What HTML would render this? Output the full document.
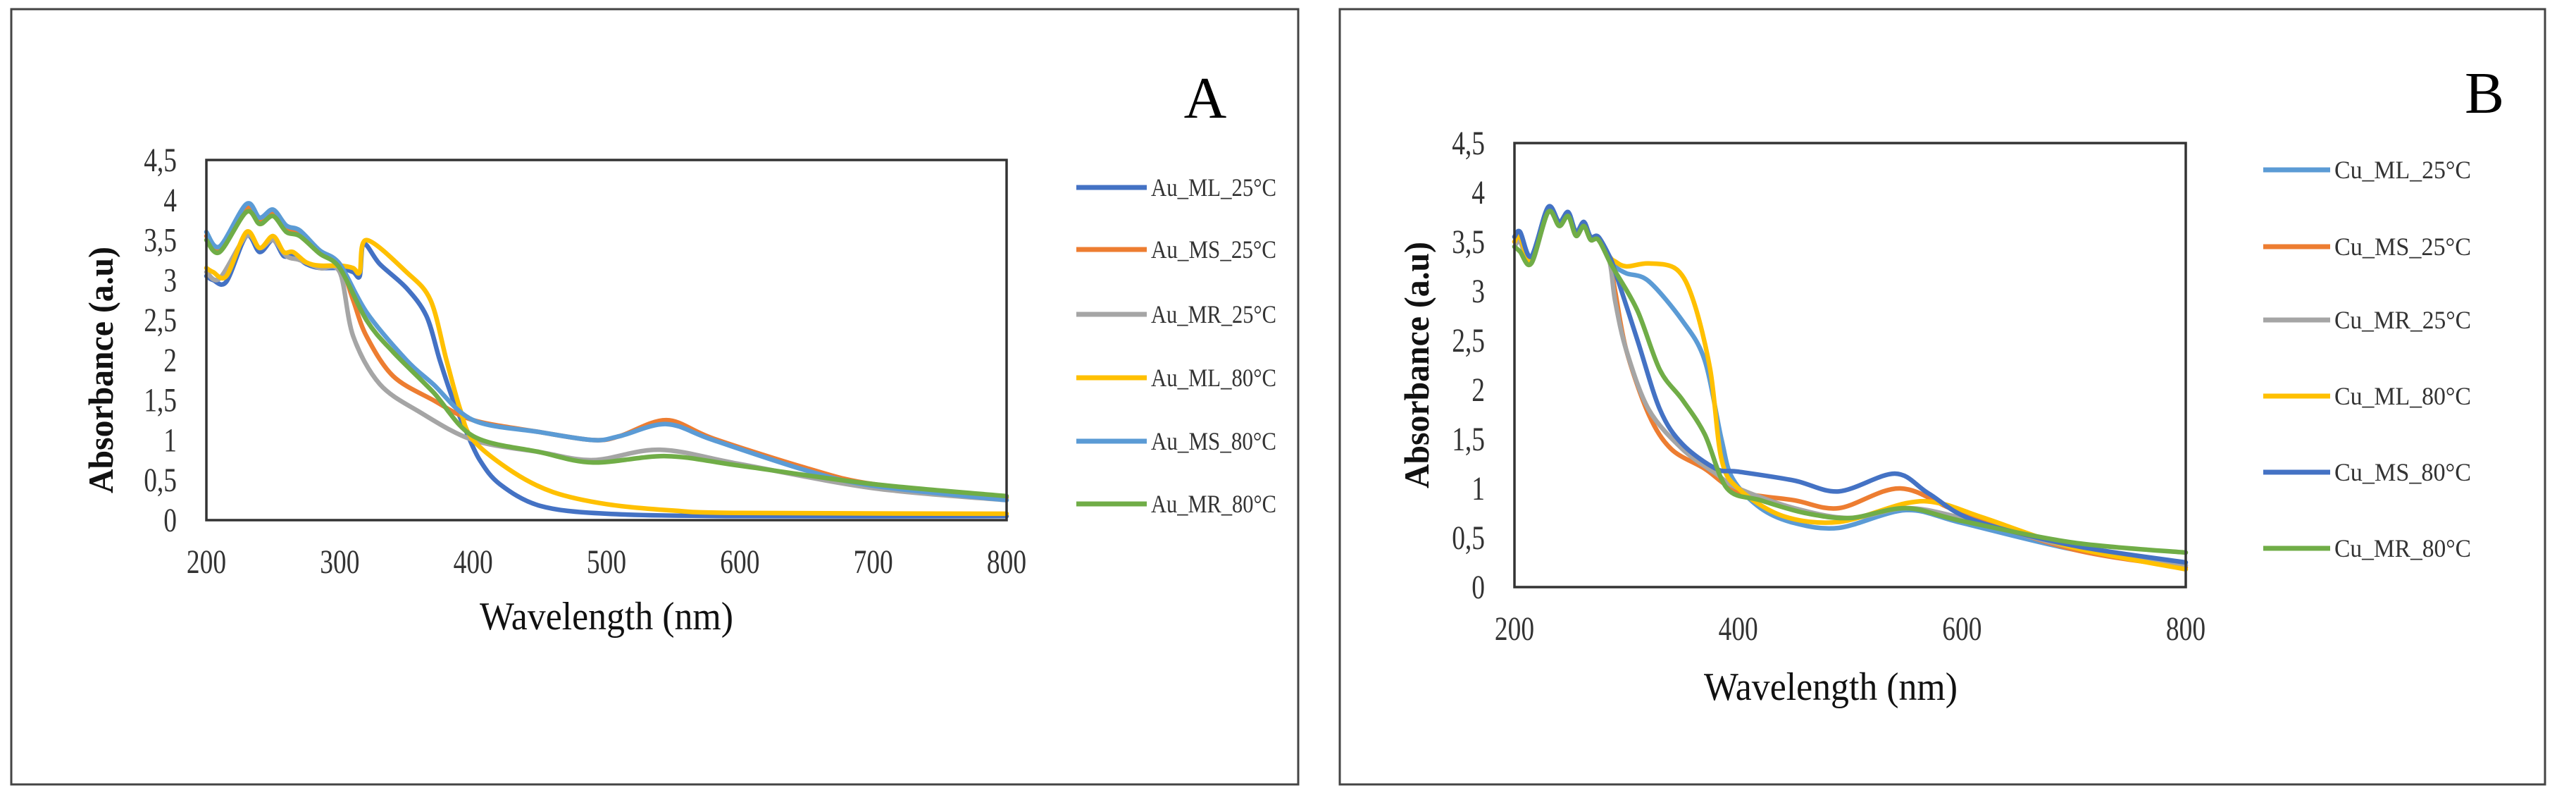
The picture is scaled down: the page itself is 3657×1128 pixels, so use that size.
<!DOCTYPE html>
<html><head><meta charset="utf-8"><style>
html,body{margin:0;padding:0;background:#fff;}
svg{display:block;font-family:"Liberation Serif",serif;}
</style></head><body>
<svg id="root" width="3657" height="1128" viewBox="0 0 3657 1128">
<rect x="16" y="13" width="1827" height="1100" fill="#fff" stroke="#444" stroke-width="3"/>
<rect x="1902" y="13" width="1711" height="1100" fill="#fff" stroke="#444" stroke-width="3"/>
<g id="gA"></g>
<g id="gB"></g>
</svg>
<script>
const colorsA=["#4472C4","#ED7D31","#A5A5A5","#FFC000","#5B9BD5","#70AD47"];
const colorsB=["#5B9BD5","#ED7D31","#A5A5A5","#FFC000","#4472C4","#70AD47"];
const yTicks=[0,0.5,1,1.5,2,2.5,3,3.5,4,4.5];
const yTickLabels=["0","0,5","1","1,5","2","2,5","3","3,5","4","4,5"];
const xTicksA=[200,300,400,500,600,700,800];
const xTicksB=[200,400,600,800];
const namesA=["Au_ML_25°C","Au_MS_25°C","Au_MR_25°C","Au_ML_80°C","Au_MS_80°C","Au_MR_80°C"];
const namesB=["Cu_ML_25°C","Cu_MS_25°C","Cu_MR_25°C","Cu_ML_80°C","Cu_MS_80°C","Cu_MR_80°C"];
const auML25=[[200,3.05],[205,3.0],[215,2.98],[230,3.55],[240,3.35],[250,3.5],[258,3.3],[265,3.32],[275,3.2],[285,3.15],[300,3.15],[310,3.1],[315,3.05],[318,3.45],[330,3.2],[350,2.9],[365,2.55],[375,2.0],[385,1.5],[395,1.1],[405,0.75],[420,0.45],[450,0.18],[500,0.08],[600,0.05],[800,0.05]];
const auMS25=[[200,3.55],[210,3.4],[230,3.9],[240,3.75],[250,3.85],[260,3.65],[270,3.6],[285,3.35],[300,3.2],[310,2.75],[320,2.3],[340,1.8],[370,1.5],[400,1.25],[450,1.1],[490,1.0],[510,1.05],[545,1.25],[580,1.02],[650,0.65],[700,0.45],[800,0.28]];
const auMR25=[[200,3.1],[210,3.02],[230,3.55],[240,3.4],[250,3.5],[260,3.3],[270,3.25],[285,3.15],[300,3.1],[310,2.3],[330,1.7],[360,1.35],[400,1.0],[450,0.85],[490,0.75],[540,0.88],[600,0.7],[700,0.4],[800,0.25]];
const auML80=[[200,3.15],[205,3.1],[215,3.05],[230,3.6],[240,3.4],[250,3.55],[258,3.35],[265,3.35],[275,3.22],[285,3.18],[300,3.18],[310,3.15],[315,3.1],[320,3.5],[350,3.1],[368,2.75],[380,2.0],[390,1.4],[400,1.0],[430,0.6],[460,0.35],[500,0.2],[550,0.12],[600,0.09],[800,0.08]];
const auMS80=[[200,3.6],[210,3.42],[230,3.95],[240,3.78],[250,3.88],[260,3.68],[270,3.62],[285,3.37],[300,3.2],[320,2.6],[350,2.0],[370,1.7],[400,1.25],[450,1.1],[490,1.0],[510,1.05],[545,1.2],[580,1.0],[650,0.62],[700,0.43],[800,0.25]];
const auMR80=[[200,3.5],[210,3.35],[230,3.85],[240,3.7],[250,3.8],[260,3.6],[270,3.55],[285,3.33],[300,3.15],[320,2.5],[340,2.1],[370,1.6],[400,1.05],[450,0.85],[490,0.72],[545,0.8],[600,0.68],[700,0.45],[800,0.3]];
const cuML25=[[200,3.55],[205,3.6],[215,3.35],[230,3.85],[240,3.7],[248,3.8],[255,3.6],[262,3.7],[268,3.55],[275,3.55],[285,3.35],[290,3.25],[300,3.18],[320,3.1],[350,2.7],[370,2.3],[385,1.5],[395,1.1],[420,0.8],[450,0.65],[490,0.6],[550,0.78],[600,0.65],[700,0.38],[800,0.22]];
const cuMS25=[[200,3.5],[205,3.55],[215,3.3],[230,3.82],[240,3.68],[248,3.78],[255,3.58],[262,3.68],[268,3.53],[275,3.53],[285,3.3],[290,3.0],[300,2.4],[320,1.75],[340,1.4],[370,1.2],[400,0.97],[450,0.88],[490,0.8],[545,1.0],[600,0.75],[700,0.38],[800,0.2]];
const cuMR25=[[200,3.45],[205,3.5],[215,3.28],[230,3.8],[240,3.66],[248,3.76],[255,3.56],[262,3.66],[268,3.52],[275,3.52],[285,3.3],[290,2.9],[300,2.4],[320,1.8],[350,1.4],[380,1.15],[400,1.0],[450,0.8],[500,0.7],[550,0.8],[600,0.7],[700,0.4],[800,0.22]];
const cuML80=[[200,3.5],[205,3.55],[215,3.3],[230,3.82],[240,3.68],[248,3.78],[255,3.58],[262,3.68],[268,3.53],[275,3.53],[285,3.35],[290,3.3],[300,3.25],[320,3.28],[345,3.22],[360,2.9],[375,2.2],[385,1.3],[400,1.0],[440,0.72],[490,0.66],[550,0.85],[580,0.85],[620,0.7],[700,0.4],[800,0.18]];
const cuMS80=[[200,3.55],[205,3.6],[215,3.35],[230,3.85],[240,3.7],[248,3.8],[255,3.6],[262,3.7],[268,3.55],[275,3.55],[285,3.35],[290,3.2],[310,2.5],[330,1.8],[350,1.45],[380,1.2],[400,1.17],[450,1.08],[490,0.97],[540,1.15],[570,0.95],[610,0.68],[700,0.42],[800,0.25]];
const cuMR80=[[200,3.45],[205,3.4],[215,3.28],[230,3.8],[240,3.66],[248,3.76],[255,3.56],[262,3.66],[268,3.52],[275,3.52],[285,3.3],[290,3.2],[310,2.8],[330,2.2],[350,1.9],[370,1.55],[390,1.0],[420,0.88],[460,0.75],[500,0.7],[550,0.8],[600,0.67],[700,0.45],[800,0.35]];
const seriesA=[auML25,auMS25,auMR25,auML80,auMS80,auMR80];
const seriesB=[cuML25,cuMS25,cuMR25,cuML80,cuMS80,cuMR80];
const NS="http://www.w3.org/2000/svg";
function mk(p,t,a){const e=document.createElementNS(NS,t);for(const k in a)e.setAttribute(k,a[k]);p.appendChild(e);return e;}
function smooth(pts){
  let d="M"+pts[0][0].toFixed(1)+","+pts[0][1].toFixed(1);
  for(let i=0;i<pts.length-1;i++){
    const p0=pts[Math.max(0,i-1)],p1=pts[i],p2=pts[i+1],p3=pts[Math.min(pts.length-1,i+2)];
    const t=0.16;
    const c1=[p1[0]+(p2[0]-p0[0])*t,p1[1]+(p2[1]-p0[1])*t];
    const c2=[p2[0]-(p3[0]-p1[0])*t,p2[1]-(p3[1]-p1[1])*t];
    d+=" C"+c1.map(v=>v.toFixed(1)).join(",")+" "+c2.map(v=>v.toFixed(1)).join(",")+" "+p2[0].toFixed(1)+","+p2[1].toFixed(1);
  }
  return d;
}
function draw(g,cfg,series,names,colors,xTicks,letter){
  const X=v=>cfg.l+(v-200)/600*(cfg.r-cfg.l);
  const Y=v=>cfg.b-v/4.5*(cfg.b-cfg.t);
  series.forEach((s,i)=>{const p=mk(g,"path",{d:smooth(s.map(d=>[X(d[0]),Y(d[1])])),fill:"none",stroke:colors[i],"stroke-width":6.5,"stroke-linejoin":"round","stroke-linecap":"round"});
    
    });
  const fr=mk(g,"rect",{x:cfg.l,y:cfg.t,width:cfg.r-cfg.l,height:cfg.b-cfg.t,fill:"none",stroke:"#333","stroke-width":3.5});
  
  
  yTicks.forEach((v,i)=>{const t=mk(g,"text",{x:0,y:0,"text-anchor":"end","font-size":48,fill:"#333",transform:`translate(${cfg.l-42},${Y(v)+16}) scale(0.78,1)`});t.textContent=yTickLabels[i];
    
    });
  xTicks.forEach(v=>{const t=mk(g,"text",{x:0,y:0,"text-anchor":"middle","font-size":48,fill:"#333",transform:`translate(${X(v)},${cfg.xl}) scale(0.78,1)`});t.textContent=String(v);
    
    });
  const xt=mk(g,"text",{x:cfg.xtx,y:cfg.xty,"text-anchor":"middle","font-size":56,fill:"#111",textLength:360,lengthAdjust:"spacingAndGlyphs"});xt.textContent="Wavelength (nm)";
  
  
  const yt=mk(g,"text",{x:0,y:0,"text-anchor":"middle","font-size":50,"font-weight":"bold",fill:"#111",textLength:350,lengthAdjust:"spacingAndGlyphs",transform:`translate(${cfg.ytx},${cfg.yty}) rotate(-90)`});yt.textContent="Absorbance (a.u)";
  
  
  names.forEach((n,i)=>{const y=cfg.ly[i];
    const ln=mk(g,"line",{x1:cfg.lx1,x2:cfg.lx2,y1:y,y2:y,stroke:colors[i],"stroke-width":7});
    
    
    const t=mk(g,"text",{x:cfg.lx2+6,y:y+12,"font-size":36,fill:"#333",textLength:cfg.lw,lengthAdjust:"spacingAndGlyphs"});t.textContent=n;
    
    });
  const L=mk(g,"text",{x:cfg.Lx,y:cfg.Ly,"text-anchor":"middle","font-size":84,fill:"#000"});L.textContent=letter;
  
  
}
draw(document.getElementById("gA"),{l:293,r:1429,t:227,b:738,xl:813,xtx:861,xty:893,ytx:160,yty:525,lx1:1528,lx2:1628,lw:178,ly:[266,354,446,536,626,715],Lx:1711,Ly:167},seriesA,namesA,colorsA,xTicksA,"A");
draw(document.getElementById("gB"),{l:2150,r:3103,t:203,b:833,xl:908,xtx:2599,xty:993,ytx:2028,yty:518,lx1:3213,lx2:3308,lw:194,ly:[241,350,454,562,670,778],Lx:3527,Ly:160},seriesB,namesB,colorsB,xTicksB,"B");
</script>
</body></html>
